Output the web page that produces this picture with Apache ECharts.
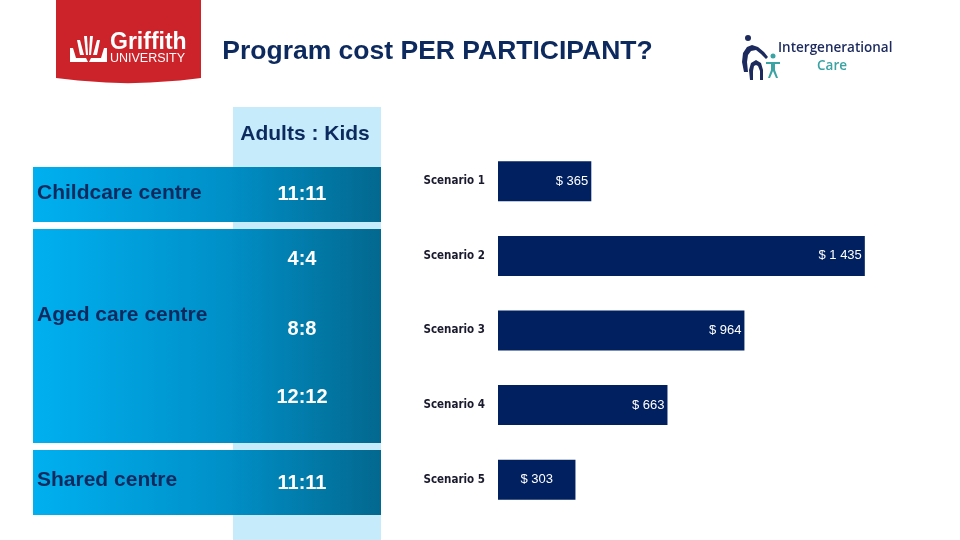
<!DOCTYPE html>
<html>
<head>
<meta charset="utf-8">
<script src="https://cdn.jsdelivr.net/npm/echarts@6/dist/echarts.min.js"></script>
<style>html,body{margin:0;padding:0;background:#fff}#c{width:960px;height:540px}</style>
</head>
<body>
<div id="c"></div>
<script>
const titleText = 'Program cost PER PARTICIPANT?';
const scenarios = ['Scenario 1', 'Scenario 2', 'Scenario 3', 'Scenario 4', 'Scenario 5'];
const costs = [365, 1435, 964, 663, 303];
const settings = ['Childcare centre', 'Aged care centre', 'Shared centre'];
const ratioHeader = 'Adults : Kids';
const ratios = ['11:11', '4:4', '8:8', '12:12', '11:11'];

const chart = echarts.init(document.getElementById('c'), null, {renderer: 'canvas'});
const navy = '#0d2a5e';
const rowGrad = {type: 'linear', x: 0, y: 0, x2: 1, y2: 0,
  colorStops: [{offset: 0, color: '#00b0f0'}, {offset: 0.55, color: '#0090c8'}, {offset: 1, color: '#03688f'}]};

function fmt(v) {
  return '$ ' + String(v).replace(/\B(?=(\d{3})+(?!\d))/g, ' ');
}

const settingY = [193, 315, 480];
const ratioY = [194, 259, 329, 397, 483];
const graphics = [
  {type: 'rect', shape: {x: 233, y: 107, width: 148, height: 433}, style: {fill: '#c6ebfb'}, z: 1},
  {type: 'rect', shape: {x: 33, y: 167, width: 348, height: 55}, style: {fill: rowGrad}, z: 2},
  {type: 'rect', shape: {x: 33, y: 229, width: 348, height: 214}, style: {fill: rowGrad}, z: 2},
  {type: 'rect', shape: {x: 33, y: 450, width: 348, height: 65}, style: {fill: rowGrad}, z: 2},
  {type: 'text', x: 305, y: 134, z: 3, style: {text: ratioHeader, fill: navy, font: 'bold 21px Arial, "Liberation Sans", sans-serif', textAlign: 'center', textVerticalAlign: 'middle'}},
  {type: 'text', x: 437.5, y: 52, z: 3, style: {text: titleText, fill: navy, font: 'bold 26.5px Arial, "Liberation Sans", sans-serif', textAlign: 'center', textVerticalAlign: 'middle'}},
  // Griffith logo
  {type: 'polygon', z: 3, shape: {points: [[56, 0], [201, 0], [201, 78], [180, 80.5], [150, 82.5], [128, 83.2], [106, 82.5], [78, 80.5], [56, 78]]}, style: {fill: '#cc2229'}},
  {type: 'text', x: 110, y: 43, z: 4, style: {text: 'Griffith', fill: '#fff', font: 'bold 23px Arial, "Liberation Sans", sans-serif', textVerticalAlign: 'middle'}},
  {type: 'text', x: 110, y: 59, z: 4, style: {text: 'UNIVERSITY', fill: '#fff', font: '12.5px "Liberation Sans Narrow", Arial, sans-serif', textVerticalAlign: 'middle'}},
  {type: 'polygon', z: 4, shape: {points: [[70, 48], [73, 48], [76, 58], [86, 58], [88, 62], [70, 62]]}, style: {fill: '#fff'}},
  {type: 'polygon', z: 4, shape: {points: [[107, 48], [104, 48], [101, 58], [91, 58], [89, 62], [107, 62]]}, style: {fill: '#fff'}},
  {type: 'polygon', z: 4, shape: {points: [[77, 40], [80, 40], [84, 55], [80, 55]]}, style: {fill: '#fff'}},
  {type: 'polygon', z: 4, shape: {points: [[100, 40], [97, 40], [93, 55], [97, 55]]}, style: {fill: '#fff'}},
  {type: 'polygon', z: 4, shape: {points: [[84, 36], [87, 36], [88, 55], [86, 55]]}, style: {fill: '#fff'}},
  {type: 'polygon', z: 4, shape: {points: [[93, 36], [90, 36], [89, 55], [91, 55]]}, style: {fill: '#fff'}},
  // Intergenerational Care logo
  {type: 'text', x: 778, y: 48, z: 4, style: {text: 'Intergenerational', fill: '#1c2a5e', font: '600 13.5px "Open Sans", Arial, sans-serif', textVerticalAlign: 'middle'}},
  {type: 'text', x: 832, y: 66, z: 4, style: {text: 'Care', fill: '#3aa3a4', font: '600 13.5px "Open Sans", Arial, sans-serif', textAlign: 'center', textVerticalAlign: 'middle'}},
  {type: 'circle', z: 4, shape: {cx: 748, cy: 38, r: 3}, style: {fill: '#1c2a5e'}},
  {type: 'polygon', z: 4, shape: {points: [[744, 72], [742, 62], [743, 53], [747, 47], [752, 45], [758, 47], [764, 52], [768, 57], [766, 59], [761, 54], [756, 50], [751, 51], [748, 55], [747, 62], [748, 72]]}, style: {fill: '#1c2a5e'}},
  {type: 'polygon', z: 4, shape: {points: [[750, 80], [749, 70], [751, 63], [756, 60], [761, 63], [763, 70], [763, 80], [760, 80], [760, 71], [758, 66], [756, 65], [754, 66], [753, 71], [753, 80]]}, style: {fill: '#1c2a5e'}},
  {type: 'circle', z: 4, shape: {cx: 773, cy: 56, r: 2.5}, style: {fill: '#3aa3a4'}},
  {type: 'polygon', z: 4, shape: {points: [[766, 62], [780, 62], [780, 64], [775, 64], [775, 70], [778, 78], [776, 78], [773, 71], [770, 78], [768, 78], [771, 70], [771, 64], [766, 64]]}, style: {fill: '#3aa3a4'}}
];
settings.forEach((s, i) => {
  graphics.push({type: 'text', x: 37, y: settingY[i], z: 5, style: {text: s, fill: navy, font: 'bold 21px Arial, "Liberation Sans", sans-serif', textVerticalAlign: 'middle'}});
});
ratios.forEach((r, i) => {
  graphics.push({type: 'text', x: 302, y: ratioY[i], z: 5, style: {text: r, fill: '#ffffff', font: 'bold 20px Arial, "Liberation Sans", sans-serif', textAlign: 'center', textVerticalAlign: 'middle'}});
});

chart.setOption({
  animation: false,
  backgroundColor: '#ffffff',
  grid: {left: 498, right: 53, top: 144, bottom: 23, containLabel: false},
  xAxis: {type: 'value', min: 0, max: 1600, show: false},
  yAxis: {
    type: 'category', data: scenarios, inverse: true,
    axisLine: {show: false}, axisTick: {show: false}, splitLine: {show: false},
    axisLabel: {margin: 13, color: '#1a1a2e', fontWeight: 'bold', fontSize: 11.5,
      fontFamily: '"Liberation Sans Narrow", "DejaVu Sans Condensed", sans-serif'}
  },
  series: [{
    type: 'bar',
    data: costs.map((v, i) => ({
      value: v,
      label: {position: i === costs.length - 1 ? 'inside' : 'insideRight'}
    })),
    barWidth: 40,
    itemStyle: {color: '#002060'},
    label: {show: true, color: '#ffffff', fontSize: 13, distance: 3,
      fontFamily: 'Arial, "Liberation Sans", sans-serif',
      formatter: p => fmt(p.value)}
  }],
  graphic: graphics
});
</script>
</body>
</html>
